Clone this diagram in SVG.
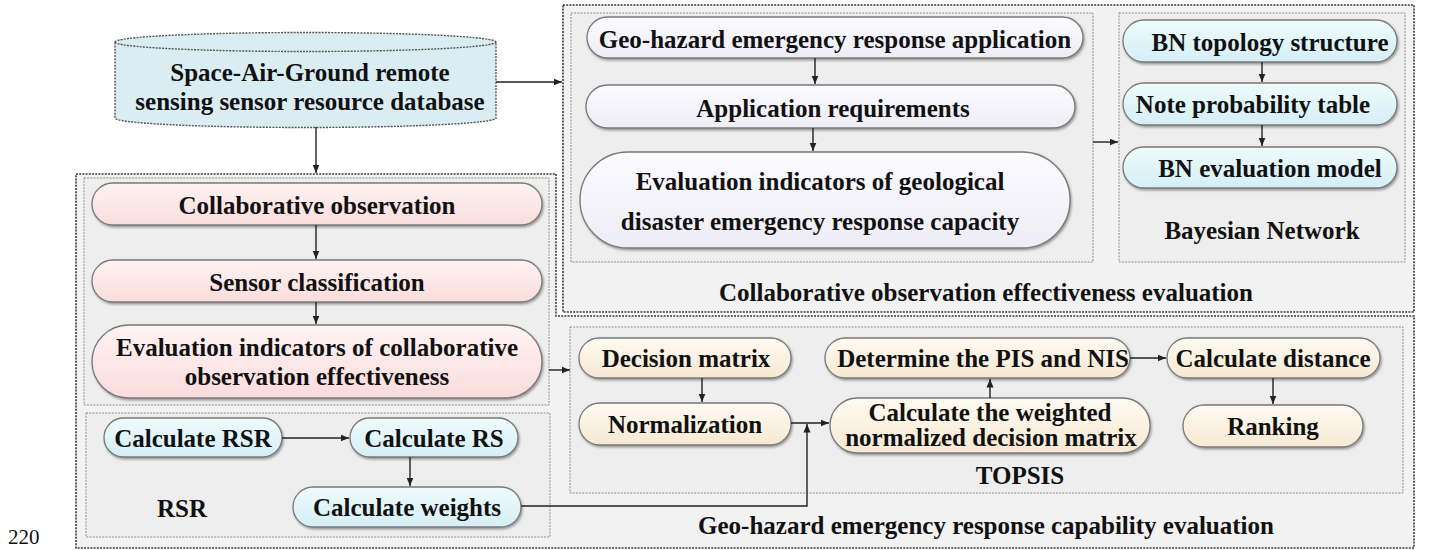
<svg xmlns="http://www.w3.org/2000/svg" width="1432" height="550" viewBox="0 0 1432 550">
<style>
text{font-family:'Liberation Serif','Times New Roman',serif;font-weight:bold;font-size:25px;fill:#111;text-anchor:middle;dominant-baseline:central}
.outer{fill:#f2f2f2;stroke:#3a3a3a;stroke-width:1.6;stroke-dasharray:2 1.2}
.panel{fill:#eeeeee;stroke:#8c8c8c;stroke-width:1;stroke-dasharray:2 1.2}
.node{stroke:#7a7a7a;stroke-width:1.3;filter:url(#sh)}
.pink{fill:url(#gPink)}
.blue{fill:url(#gBlue)}
.beige{fill:url(#gBeige)}
.lav{fill:url(#gLav)}
.con{fill:none;stroke:#222;stroke-width:1.4}
.arr{marker-end:url(#ah)}
</style>
<defs>
<filter id="sh" x="-10%" y="-20%" width="120%" height="150%">
<feDropShadow dx="1.2" dy="1.8" stdDeviation="0.9" flood-color="#555" flood-opacity="0.55"/>
</filter>
<linearGradient id="gPink" x1="0" y1="0" x2="0" y2="1"><stop offset="0" stop-color="#fff3f3"/><stop offset="1" stop-color="#fadcdc"/></linearGradient>
<linearGradient id="gBlue" x1="0" y1="0" x2="0" y2="1"><stop offset="0" stop-color="#effbfd"/><stop offset="1" stop-color="#d4eff5"/></linearGradient>
<linearGradient id="gBeige" x1="0" y1="0" x2="0" y2="1"><stop offset="0" stop-color="#fffaf1"/><stop offset="1" stop-color="#f6e9d3"/></linearGradient>
<linearGradient id="gLav" x1="0" y1="0" x2="0" y2="1"><stop offset="0" stop-color="#fcfbff"/><stop offset="1" stop-color="#eeedf7"/></linearGradient>
<marker id="ah" markerWidth="9" markerHeight="8" refX="8.5" refY="4" orient="auto" markerUnits="userSpaceOnUse"><path d="M0,0.5 L8.5,4 L0,7.5 Z" fill="#222"/></marker>
</defs>
<rect width="1432" height="550" fill="#ffffff"/>

<g id="panels">
<path class="outer" d="M76,174 H556 V316 H1414 V548 H76 Z"/>
<rect class="outer" x="563" y="5" width="851" height="307"/>
<rect class="panel" x="84" y="178" width="465" height="227"/>
<rect class="panel" x="86" y="413" width="464" height="124"/>
<rect class="panel" x="570" y="327" width="833" height="166"/>
<rect class="panel" x="571" y="13" width="522" height="249"/>
<rect class="panel" x="1119" y="13" width="286" height="249"/>
</g>

<g id="labels">
<text x="986" y="292">Collaborative observation effectiveness evaluation</text>
<text x="1262" y="230">Bayesian Network</text>
<text x="182" y="508">RSR</text>
<text x="1020" y="475">TOPSIS</text>
<text x="986" y="525">Geo-hazard emergency response capability evaluation</text>
<text x="8" y="537" style="font-size:21px;font-weight:normal;text-anchor:start">220</text>
</g>

<g id="database">
<path d="M115,42 A190.5,9.5 0 0 1 496,42 V118 A190.5,9.5 0 0 1 115,118 Z" fill="#d9edf3" stroke="#555" stroke-width="1.4" stroke-dasharray="2 1.2"/>
<path d="M115,42 A190.5,9.5 0 0 0 496,42" fill="none" stroke="#555" stroke-width="1.4" stroke-dasharray="2 1.2"/>
<text x="310" y="72">Space-Air-Ground remote</text>
<text x="310" y="101">sensing sensor resource database</text>
</g>

<g id="n-app">
<rect class="node lav" x="587" y="17" width="496" height="41" rx="20.5"/>
<text x="835" y="39">Geo-hazard emergency response application</text>
</g>
<g id="n-req">
<rect class="node lav" x="586" y="85" width="489" height="43" rx="21.5"/>
<text x="833" y="108">Application requirements</text>
</g>
<g id="n-geoind">
<rect class="node lav" x="580" y="152" width="490" height="96" rx="48"/>
<text x="820" y="181">Evaluation indicators of geological</text>
<text x="820" y="221">disaster emergency response capacity</text>
</g>

<g id="n-bn1">
<rect class="node blue" x="1123" y="20" width="274" height="42" rx="21"/>
<text x="1270" y="42">BN topology structure</text>
</g>
<g id="n-bn2">
<rect class="node blue" x="1123" y="83" width="274" height="42" rx="21"/>
<text x="1253" y="104">Note probability table</text>
</g>
<g id="n-bn3">
<rect class="node blue" x="1123" y="147" width="274" height="41" rx="20.5"/>
<text x="1270" y="168">BN evaluation model</text>
</g>

<g id="n-collab">
<rect class="node pink" x="92" y="183" width="450" height="42" rx="21"/>
<text x="317" y="205">Collaborative observation</text>
</g>
<g id="n-sensor">
<rect class="node pink" x="92" y="260" width="450" height="42" rx="21"/>
<text x="317" y="282">Sensor classification</text>
</g>
<g id="n-collabind">
<rect class="node pink" x="92" y="325" width="450" height="73" rx="36.5"/>
<text x="317" y="347">Evaluation indicators of collaborative</text>
<text x="317" y="376">observation effectiveness</text>
</g>

<g id="n-rsr">
<rect class="node blue" x="104" y="418" width="178" height="39" rx="19.5"/>
<text x="193" y="438">Calculate RSR</text>
</g>
<g id="n-rs">
<rect class="node blue" x="350" y="418" width="168" height="39" rx="19.5"/>
<text x="434" y="438">Calculate RS</text>
</g>
<g id="n-weights">
<rect class="node blue" x="293" y="487" width="228" height="40" rx="20"/>
<text x="407" y="507">Calculate weights</text>
</g>

<g id="n-decision">
<rect class="node beige" x="579" y="338" width="212" height="40" rx="20"/>
<text x="686" y="358">Decision matrix</text>
</g>
<g id="n-norm">
<rect class="node beige" x="579" y="403" width="212" height="42" rx="21"/>
<text x="685" y="424">Normalization</text>
</g>
<g id="n-pis">
<rect class="node beige" x="825" y="338" width="305" height="40" rx="20"/>
<text x="983" y="358">Determine the PIS and NIS</text>
</g>
<g id="n-weighted">
<rect class="node beige" x="830" y="398" width="320" height="55" rx="27.5"/>
<text x="990" y="412">Calculate the weighted</text>
<text x="991" y="437">normalized decision matrix</text>
</g>
<g id="n-distance">
<rect class="node beige" x="1167" y="338" width="213" height="40" rx="20"/>
<text x="1273" y="358">Calculate distance</text>
</g>
<g id="n-ranking">
<rect class="node beige" x="1183" y="405" width="180" height="42" rx="21"/>
<text x="1273" y="426">Ranking</text>
</g>

<g id="connectors">
<path class="con arr" d="M496,82 H562"/>
<path class="con arr" d="M316,127 V173"/>
<path class="con arr" d="M815,58 V84"/>
<path class="con arr" d="M813,128 V151"/>
<path class="con arr" d="M1093,142 H1118"/>
<path class="con arr" d="M1262,62 V82"/>
<path class="con arr" d="M1262,125 V146"/>
<path class="con arr" d="M316,225 V259"/>
<path class="con arr" d="M316,302 V324"/>
<path class="con arr" d="M549,370 H570"/>
<path class="con arr" d="M282,438 H349"/>
<path class="con arr" d="M410,457 V486"/>
<path class="con arr" d="M521,506 H807 V424"/>
<path class="con arr" d="M702,378 V402"/>
<path class="con arr" d="M791,423 H829"/>
<path class="con arr" d="M990,398 V379"/>
<path class="con arr" d="M1130,358 H1166"/>
<path class="con arr" d="M1273,378 V404"/>
</g>
</svg>
